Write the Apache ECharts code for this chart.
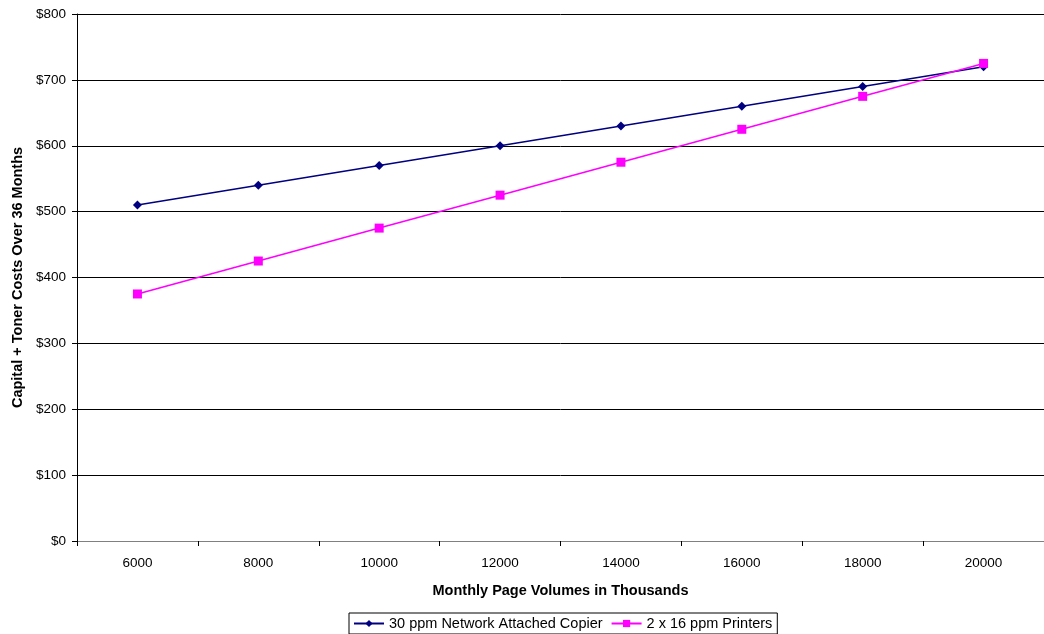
<!DOCTYPE html>
<html>
<head>
<meta charset="utf-8">
<script src="https://cdn.jsdelivr.net/npm/echarts@6/dist/echarts.min.js"></script>
<style>
  html, body { margin: 0; padding: 0; background: #fff; }
  #chart { width: 1044px; height: 634px; }
</style>
</head>
<body>
<div id="chart"></div>
<script>
// Monthly page volumes (thousands) and 36-month capital + toner costs
const volumes = ['6000', '8000', '10000', '12000', '14000', '16000', '18000', '20000'];
const copierCosts = [510, 540, 570, 600, 630, 660, 690, 720];
const printerCosts = [375, 425, 475, 525, 575, 625, 675, 725];
const seriesNames = ['30 ppm Network Attached Copier', '2 x 16 ppm Printers'];

const font = 'Liberation Sans, Arial, sans-serif';
const chart = echarts.init(document.getElementById('chart'));

chart.setOption({
  animation: false,
  backgroundColor: '#ffffff',
  grid: {
    left: 77, right: 0, top: 14, bottom: 93,
    containLabel: false,
    outerBoundsMode: 'none'
  },
  legend: {
    bottom: 0,
    left: 349,
    itemWidth: 30,
    itemHeight: 9,
    itemGap: 8,
    padding: [3, 5, 3, 4],
    borderColor: '#000',
    borderWidth: 1,
    borderRadius: 0,
    textStyle: { fontFamily: font, fontSize: 14.5, color: '#000' },
    data: seriesNames
  },
  xAxis: {
    type: 'category',
    data: volumes,
    boundaryGap: true,
    name: 'Monthly Page Volumes in Thousands',
    nameLocation: 'middle',
    nameGap: 42,
    nameTextStyle: { fontFamily: font, fontSize: 14.5, fontWeight: 'bold', color: '#000' },
    axisLine: { lineStyle: { color: '#808080', width: 1 } },
    axisTick: { show: true, length: 5, alignWithLabel: false, lineStyle: { color: '#000' } },
    axisLabel: { fontFamily: font, fontSize: 13.5, color: '#000', margin: 15 },
    splitLine: { show: false }
  },
  yAxis: {
    type: 'value',
    min: 0,
    max: 800,
    interval: 100,
    name: 'Capital + Toner Costs Over 36 Months',
    nameLocation: 'middle',
    nameGap: 51,
    nameTextStyle: { fontFamily: font, fontSize: 14.5, fontWeight: 'bold', color: '#000' },
    axisLine: { show: true, lineStyle: { color: '#000', width: 1 } },
    axisTick: { show: true, length: 5, lineStyle: { color: '#000' } },
    axisLabel: { fontFamily: font, fontSize: 13.5, color: '#000', margin: 11, formatter: v => '$' + v },
    splitLine: { show: true, lineStyle: { color: '#000', width: 1 } }
  },
  series: [
    {
      name: seriesNames[0],
      type: 'line',
      data: copierCosts,
      symbol: 'diamond',
      symbolSize: 9,
      lineStyle: { color: '#000080', width: 1.5 },
      itemStyle: { color: '#000080' },
      z: 3
    },
    {
      name: seriesNames[1],
      type: 'line',
      data: printerCosts,
      symbol: 'rect',
      symbolSize: 9,
      lineStyle: { color: '#ff00ff', width: 1.5 },
      itemStyle: { color: '#ff00ff' },
      z: 4
    }
  ]
});
</script>
</body>
</html>
